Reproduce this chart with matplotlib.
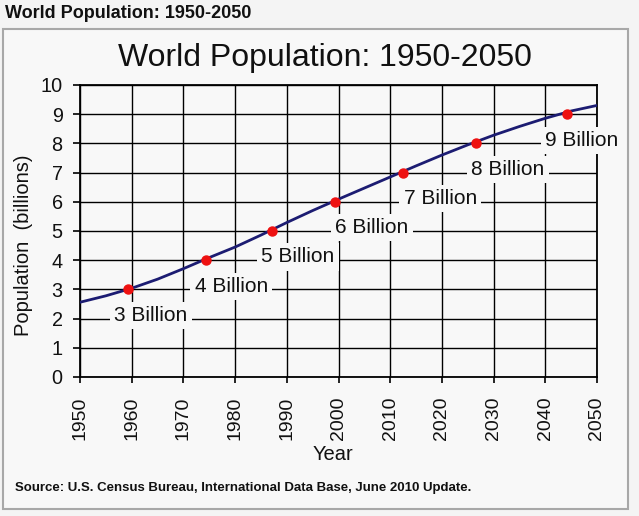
import matplotlib
matplotlib.use("Agg")
import matplotlib.pyplot as plt
from matplotlib.patches import Rectangle

plt.rcParams['font.family'] = ['Liberation Sans', 'DejaVu Sans']

# Data (billions)
years = [1950, 1955, 1960, 1965, 1970, 1975, 1980, 1985, 1990, 1995, 2000,
         2005, 2010, 2015, 2020, 2025, 2030, 2035, 2040, 2045, 2050]
population = [2.56, 2.78, 3.04, 3.35, 3.71, 4.09, 4.45, 4.86, 5.29, 5.70, 6.09,
              6.47, 6.85, 7.23, 7.60, 7.95, 8.28, 8.58, 8.86, 9.11, 9.30]

milestone_years = [1959.3, 1974.4, 1987.1, 1999.3, 2012.5, 2026.6, 2044.2]
milestone_values = [3, 4, 5, 6, 7, 8, 9]
milestone_labels = ['3 Billion', '4 Billion', '5 Billion', '6 Billion',
                    '7 Billion', '8 Billion', '9 Billion']
label_dx = [23, 25, 26, 37, 37, 32, 15]   # pixel offsets of labels

xticks = list(range(1950, 2051, 10))
yticks = list(range(0, 11))

W, H = 639, 516
fig = plt.figure(figsize=(W / 100, H / 100), dpi=100)
fig.patch.set_facecolor('#f4f4f4')

# outer box
box = Rectangle((3 / W, 1 - 509 / H), 625 / W, 480 / H,
                transform=fig.transFigure, facecolor='#f8f8f8',
                edgecolor='#a8a8a8', lw=1.5, zorder=-10)
fig.add_artist(box)

fig.text(5 / W, 1 - 13 / H, 'World Population: 1950-2050', fontsize=13,
         fontweight='bold', ha='left', va='center', color='#111111')
fig.text(325 / W, 1 - 58 / H, 'World Population: 1950-2050', fontsize=23,
         ha='center', va='center', color='#111111')
fig.text(15 / W, 1 - 488 / H,
         'Source: U.S. Census Bureau, International Data Base, June 2010 Update.',
         fontsize=9.5, fontweight='bold', ha='left', va='center', color='#111111')

ax = fig.add_axes([80 / W, 1 - 377 / H, 517 / W, 292 / H])
ax.set_facecolor('#f8f8f8')
ax.set_xlim(1950, 2050)
ax.set_ylim(0, 10)
ax.set_xticks(xticks)
ax.set_yticks(yticks)
ax.set_xticklabels([str(x) for x in xticks], rotation=90, fontsize=14)
ax.set_yticklabels([str(y) for y in yticks], fontsize=14.3)
ax.tick_params(axis='x', direction='out', length=4.5, width=1.2, color='black',
               pad=9.5, labelcolor='#111111')
ax.tick_params(axis='y', direction='out', length=5, width=1.2, color='black',
               pad=7.5, labelcolor='#111111')
ax.grid(True, color='black', lw=1.0)
ax.set_axisbelow(True)
for s in ax.spines.values():
    s.set_color('black')
    s.set_linewidth(1.3)

ax.plot(years, population, color='#1c1c72', lw=2.0, zorder=3)
ax.plot(milestone_years, milestone_values, 'o', color='#ee1111', ms=6.5,
        zorder=4)

for yr, v, lab, dx in zip(milestone_years, milestone_values, milestone_labels,
                          label_dx):
    ax.annotate(lab, (yr, v), xytext=(dx, -26), textcoords='offset pixels',
                ha='center', va='center', fontsize=15, color='#111111',
                bbox=dict(boxstyle='square,pad=0.2', fc='#f8f8f8', ec='none'),
                zorder=5, annotation_clip=False)

ax.set_xlabel('Year', fontsize=14.5, color='#111111', va='center')
ax.xaxis.set_label_coords((333 - 80) / 517, -(455 - 377) / 292)
ax.set_ylabel('Population  (billions)', fontsize=14.5, color='#111111',
              va='center')
ax.yaxis.set_label_coords((24 - 80) / 517, (377 - 245) / 292)

fig.savefig('out.png', dpi=100, facecolor=fig.get_facecolor())
